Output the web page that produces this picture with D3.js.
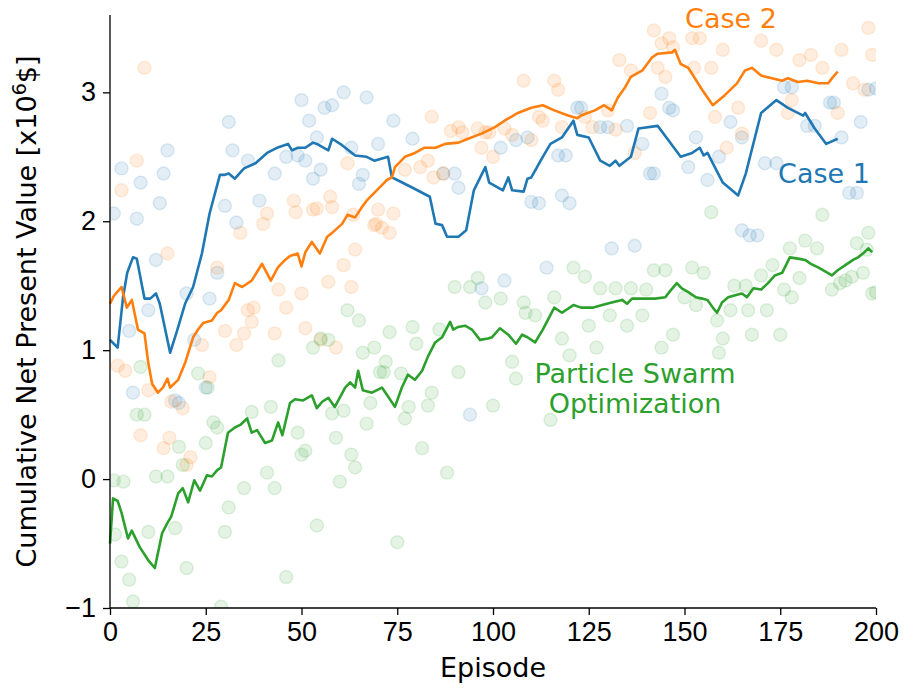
<!DOCTYPE html>
<html lang="en">
<head>
<meta charset="UTF-8">
<title>Cumulative Net Present Value per Episode</title>
<script src="https://cdn.jsdelivr.net/npm/d3@7/dist/d3.min.js"></script>
<style>
  body { margin: 0; background: #fff; }
  svg { display: block; font-family: 'DejaVu Sans', sans-serif; }
  .axis path, .axis line { stroke: #000; stroke-width: 1.3; }
  .axis text { font-size: 27px; fill: #000; }
</style>
</head>
<body>
<svg id="chart" width="906" height="690"></svg>
<script>
// smoothed curves, [episode, value]
const case1Line = [[0,1.08],[1,1.05],[2,1.02],[3.4,1.41],[4.5,1.6],[6,1.72],[7,1.71],[9,1.40],[10.5,1.40],[12,1.44],[13,1.36],[15.7,0.98],[17.5,1.15],[19.6,1.36],[21.7,1.49],[24,1.75],[26,2.06],[28.7,2.36],[30,2.36],[31,2.37],[32.6,2.33],[35,2.41],[38,2.45],[41,2.53],[43.6,2.57],[46.5,2.60],[47.5,2.55],[49,2.57],[51,2.57],[53,2.61],[54,2.60],[57,2.55],[58,2.64],[60.6,2.59],[64,2.51],[67,2.50],[69,2.47],[72.6,2.50],[73.6,2.34],[75,2.32],[79,2.26],[83.5,2.19],[85,1.98],[86.7,1.97],[88,1.88],[91,1.88],[93,1.93],[95,2.24],[98,2.42],[99,2.30],[102.6,2.24],[104,2.34],[105,2.24],[108,2.23],[109,2.33],[110,2.34],[113,2.50],[115,2.60],[118,2.65],[121,2.78],[122,2.67],[125,2.65],[128,2.47],[130.5,2.43],[132,2.47],[133,2.43],[136,2.50],[138,2.72],[143,2.74],[146,2.62],[149,2.50],[152,2.53],[154,2.57],[155,2.51],[156,2.53],[160,2.30],[164,2.20],[166,2.37],[170,2.84],[174,2.94],[177,2.88],[181,2.82],[181.5,2.84],[184,2.72],[187,2.60],[190,2.64]];
const case2Line = [[0,1.36],[1,1.42],[3,1.49],[4.4,1.33],[5.7,1.39],[7.3,1.16],[9,1.13],[10,0.90],[11,0.74],[12.5,0.67],[13.8,0.71],[15,0.78],[15.7,0.71],[17.8,0.77],[19.6,0.90],[21.7,1.10],[23,1.16],[24.3,1.21],[26.6,1.23],[28,1.29],[29,1.31],[31,1.39],[32.6,1.52],[34.5,1.49],[37,1.54],[39.7,1.67],[42,1.54],[43.8,1.64],[45.7,1.70],[47,1.73],[49,1.75],[50,1.65],[51,1.76],[52.7,1.84],[54.8,1.75],[56.7,1.88],[58,1.91],[60.6,1.98],[62,2.05],[64,2.03],[65.8,2.11],[67,2.16],[69,2.22],[71,2.28],[72.3,2.32],[73.6,2.34],[74.4,2.42],[77,2.50],[79.6,2.53],[82,2.57],[85,2.57],[87.5,2.60],[91,2.61],[93.5,2.64],[97,2.68],[100.5,2.73],[103,2.78],[106.5,2.84],[110,2.88],[113,2.90],[116,2.86],[119.6,2.82],[122,2.80],[123,2.82],[126.6,2.86],[129,2.90],[131,2.86],[132.6,2.96],[134.5,3.04],[136,3.12],[139,3.17],[141.5,3.27],[143,3.30],[146.7,3.31],[147.5,3.33],[149,3.22],[151,3.19],[154.6,3.02],[157.4,2.90],[160.6,2.98],[163.7,3.07],[165.8,3.17],[167.6,3.19],[170,3.13],[172.8,3.11],[175.5,3.09],[177,3.11],[179.6,3.08],[182,3.09],[185,3.07],[187.5,3.07],[188.8,3.12],[190,3.16]];
const psoLine = [[0,-0.50],[0.8,-0.15],[2,-0.17],[3,-0.26],[4.7,-0.46],[5.7,-0.40],[7.8,-0.53],[10,-0.63],[11.7,-0.69],[13.6,-0.42],[15,-0.34],[16,-0.29],[17.8,-0.11],[19,-0.07],[20.4,-0.18],[22,-0.01],[23.5,-0.09],[25.3,0.03],[26.6,0.02],[28,0.07],[29,0.09],[30.8,0.36],[32.6,0.40],[34,0.42],[35.8,0.47],[37,0.36],[38.4,0.38],[40.5,0.28],[42.3,0.30],[43.9,0.44],[45,0.34],[47,0.59],[48.3,0.62],[50.4,0.61],[52.7,0.65],[54,0.55],[55.4,0.60],[57,0.63],[58.7,0.56],[61.4,0.71],[62.7,0.75],[64,0.71],[64.8,0.84],[66,0.69],[68.4,0.67],[71,0.71],[72.6,0.64],[74.4,0.56],[76.2,0.71],[77.8,0.81],[79.6,0.77],[81.5,0.84],[83,0.95],[84.9,1.06],[86.7,1.10],[88.8,1.22],[89.6,1.16],[90.9,1.18],[92.7,1.19],[94.5,1.16],[96.6,1.08],[98.7,1.09],[99.7,1.10],[101.8,1.17],[104,1.12],[106,1.05],[107.6,1.12],[109,1.10],[111,1.06],[113,1.16],[116,1.33],[118,1.29],[121,1.35],[123,1.33],[126,1.33],[128.5,1.35],[131,1.37],[133.7,1.39],[135,1.36],[136.3,1.40],[139.7,1.40],[142.3,1.40],[145,1.41],[146,1.45],[148,1.52],[149.3,1.48],[151,1.45],[153,1.41],[154.6,1.40],[156,1.39],[157.4,1.33],[158.5,1.29],[159.8,1.37],[161.4,1.41],[163.7,1.43],[165,1.44],[166.3,1.41],[168,1.48],[170,1.47],[171.8,1.52],[173.6,1.58],[175.5,1.60],[177.5,1.72],[179.6,1.71],[181.5,1.70],[183,1.67],[185,1.64],[187.4,1.60],[188.5,1.58],[190,1.62],[192,1.66],[194,1.70],[195.3,1.72],[197,1.76],[198,1.79],[199,1.76]];

// raw episode results, [episode, value]
const case1Pts = [[1,2.06],[3,2.41],[5,1.15],[6,0.67],[7,2.02],[8,2.30],[10,1.31],[12,1.70],[13,2.14],[14,2.37],[15,2.55],[17,0.61],[18,0.59],[20,1.44],[22,1.08],[25,0.71],[26,1.40],[28,1.60],[30,2.12],[31,2.77],[32,2.55],[33,1.99],[36,2.47],[39,2.16],[43,2.37],[46,2.50],[49,2.51],[50,2.94],[51,2.47],[52,2.78],[53,2.33],[54,2.65],[55,2.40],[56,2.88],[58,2.90],[61,3.00],[63,2.57],[65,2.29],[66,2.36],[67,2.96],[70,2.60],[74,2.78],[79,2.64],[87,2.37],[90,2.37],[91,2.26],[94,0.50],[97,1.48],[102,2.57],[103,1.54],[106,2.63],[109,2.65],[110,2.15],[112,2.14],[114,1.64],[117,2.51],[118,2.20],[119,2.51],[120,2.14],[122,2.88],[123,2.88],[128,2.73],[130,2.73],[131,1.79],[135,2.74],[137,1.81],[139,2.60],[141,2.37],[142,2.37],[144,2.99],[146,2.88],[147,2.86],[151,2.42],[153,2.65],[156,2.32],[159,2.50],[162,2.77],[165,2.65],[165,1.93],[167,1.89],[169,1.89],[171,2.45],[174,2.45],[176,3.04],[178,3.04],[182,2.74],[184,2.74],[188,2.92],[189,2.92],[191,2.65],[193,2.22],[195,2.22],[196,2.77],[198,3.02],[200,3.03]];
const case2Pts = [[2,0.88],[3,2.24],[4,0.84],[7,2.47],[8,0.34],[9,3.19],[10,0.69],[14,0.24],[15,1.75],[15.5,0.32],[16,0.60],[19,0.55],[20,0.11],[21,0.17],[24,1.04],[26,0.79],[28,1.64],[30,1.15],[33,1.04],[34,1.91],[35,1.13],[36,1.31],[37,1.22],[37.5,1.33],[40,1.98],[41,2.06],[43,1.13],[44,1.47],[46,1.33],[48,2.16],[48.5,2.07],[50,1.44],[51,1.17],[53,2.09],[54,2.10],[55,1.08],[57,1.53],[57.5,2.19],[58,2.11],[59,1.02],[61,1.66],[62,2.45],[63,1.49],[63.5,2.05],[64,1.78],[69,1.97],[69.5,1.98],[70,2.09],[71,1.95],[73,1.91],[74,2.06],[77,2.40],[81,2.42],[83,2.47],[84,2.81],[84.5,2.34],[87,2.37],[89,2.70],[91,2.73],[92,2.69],[96,2.72],[97,2.57],[98,2.69],[99,2.69],[100,2.50],[103,2.72],[105,2.67],[108,3.09],[110,2.63],[112,2.81],[113,2.78],[116,3.09],[117,3.02],[118,2.73],[124,2.81],[126,2.73],[130,2.86],[132,2.71],[133,3.25],[136,3.17],[137,2.53],[141,2.84],[142,3.48],[143,3.19],[144,3.38],[145,3.12],[146,3.42],[147,3.35],[152,3.42],[152.5,3.19],[154,3.42],[157,3.19],[158,2.81],[160,3.33],[161,2.57],[164,2.88],[165,2.68],[170,3.40],[174,3.33],[177,2.84],[178,2.94],[180,3.25],[183,3.29],[186,3.19],[190,2.84],[191,3.33],[194,3.07],[197,3.02],[198,3.50],[199,3.29]];
const psoPts = [[1,-0.01],[1.3,-0.43],[3,-0.64],[3.5,-0.02],[5,-0.78],[6,-0.95],[7,0.50],[8,0.87],[9,0.50],[10,-0.41],[12,0.02],[15,0.02],[17,-0.38],[18,0.25],[19,0.11],[20,-0.69],[23,0.82],[25,0.28],[25.5,0.71],[27,0.44],[28,0.40],[29,-0.99],[30,-0.41],[31,-0.22],[35,-0.07],[37,0.52],[41,0.05],[42,0.56],[43,-0.07],[44,0.92],[46,-0.76],[49,0.36],[50,0.19],[51,0.22],[53,1.02],[54,-0.36],[55,1.09],[57,1.08],[58,0.51],[59,0.32],[60,-0.02],[61,0.53],[62,1.31],[63,0.19],[64,0.09],[65,1.23],[66,0.98],[67,0.43],[68,0.59],[69,1.02],[70.5,0.83],[71.5,0.83],[72,0.91],[73,1.14],[75,-0.49],[76,0.82],[77,0.47],[78,0.56],[79,1.18],[80,1.05],[81.5,0.24],[83,0.57],[84,0.67],[86,1.16],[88,0.05],[90,1.49],[91,0.83],[94,1.49],[96,1.56],[98,1.37],[100,0.57],[102,1.40],[105,0.91],[106,0.78],[108,1.37],[108.5,1.29],[111,1.27],[115,0.46],[116,1.41],[118,1.09],[120,0.96],[121,1.64],[124,1.57],[125,1.19],[127,1.02],[128,1.48],[130.5,1.27],[132,1.48],[135,1.19],[136,1.48],[139,1.27],[140,1.47],[142,1.62],[144,1.02],[145,1.62],[147,1.12],[150,1.41],[152,1.64],[153,1.35],[155,1.60],[157,2.07],[158.5,1.23],[159,0.98],[160,1.09],[162,1.31],[163,1.50],[166,1.50],[166.6,1.31],[167.6,1.12],[170,1.58],[171.5,1.31],[173,1.66],[175,1.12],[176,1.47],[177.5,1.79],[178,1.41],[180,1.56],[181.5,1.85],[184.6,1.79],[186,2.05],[188.5,1.47],[190.6,1.52],[192,1.54],[193.7,1.57],[195,1.83],[196.6,1.60],[197.6,1.78],[198,1.91],[199,1.44],[200,1.45]];

const xTicks = [0, 25, 50, 75, 100, 125, 150, 175, 200];
const yTicks = [-1, 0, 1, 2, 3];

const series = [
  { name: "Case 1", color: "#1f77b4", pts: case1Pts, line: case1Line },
  { name: "Case 2", color: "#ff7f0e", pts: case2Pts, line: case2Line },
  { name: "PSO", color: "#2ca02c", pts: psoPts, line: psoLine }
];

const svg = d3.select("#chart");
const plotLeft = 110, plotRight = 876, plotTop = 15, plotBottom = 608;

const x = d3.scaleLinear().domain([0, 200]).range([plotLeft, plotRight]);
const y = d3.scaleLinear().domain([-1, 3.6]).range([plotBottom, plotTop]);

svg.append("rect").attr("width", 906).attr("height", 690).attr("fill", "#fff");

svg.append("clipPath").attr("id", "plotClip")
  .append("rect")
  .attr("x", plotLeft).attr("y", plotTop)
  .attr("width", plotRight - plotLeft).attr("height", plotBottom - plotTop);

const dots = svg.append("g").attr("clip-path", "url(#plotClip)");
series.forEach(s => {
  dots.append("g")
    .selectAll("circle")
    .data(s.pts)
    .join("circle")
    .attr("cx", d => x(d[0]))
    .attr("cy", d => y(d[1]))
    .attr("r", 6.5)
    .attr("fill", s.color)
    .attr("fill-opacity", 0.13)
    .attr("stroke", s.color)
    .attr("stroke-opacity", 0.14)
    .attr("stroke-width", 1.4);
});

const line = d3.line().x(d => x(d[0])).y(d => y(d[1]));
series.forEach(s => {
  svg.append("path")
    .datum(s.line)
    .attr("d", line)
    .attr("fill", "none")
    .attr("stroke", s.color)
    .attr("stroke-width", 2.6)
    .attr("stroke-linejoin", "round");
});

svg.append("g")
  .attr("class", "axis")
  .attr("transform", `translate(0,${plotBottom})`)
  .call(d3.axisBottom(x).tickValues(xTicks).tickSize(7).tickPadding(7).tickSizeOuter(0))
  .call(g => g.select(".domain").attr("d", `M${plotLeft},0H${plotRight}`));

svg.append("g")
  .attr("class", "axis")
  .attr("transform", `translate(${plotLeft},0)`)
  .call(d3.axisLeft(y).tickValues(yTicks).tickFormat(d3.format("d")).tickSize(7).tickPadding(7).tickSizeOuter(0))
  .call(g => g.select(".domain").attr("d", `M0,${plotTop}V${plotBottom}`));

svg.append("text")
  .attr("x", (plotLeft + plotRight) / 2).attr("y", 677)
  .attr("text-anchor", "middle")
  .attr("font-size", 27)
  .text("Episode");

const yLabel = svg.append("text")
  .attr("transform", `translate(36,${(plotTop + plotBottom) / 2}) rotate(-90)`)
  .attr("text-anchor", "middle")
  .attr("font-size", 27);
yLabel.append("tspan").text("Cumulative Net Present Value [x10");
yLabel.append("tspan").attr("dy", -10).attr("font-size", 19).text("6");
yLabel.append("tspan").attr("dy", 10).text("$]");

// curve labels
svg.append("text")
  .attr("x", 731).attr("y", 28)
  .attr("text-anchor", "middle").attr("font-size", 27)
  .attr("fill", "#ff7f0e")
  .text("Case 2");

svg.append("text")
  .attr("x", 824).attr("y", 183)
  .attr("text-anchor", "middle").attr("font-size", 27)
  .attr("fill", "#1f77b4")
  .text("Case 1");

const psoLabel = svg.append("text")
  .attr("text-anchor", "middle").attr("font-size", 27)
  .attr("fill", "#2ca02c");
psoLabel.append("tspan").attr("x", 635).attr("y", 383).text("Particle Swarm");
psoLabel.append("tspan").attr("x", 635).attr("y", 413).text("Optimization");
</script>
</body>
</html>
